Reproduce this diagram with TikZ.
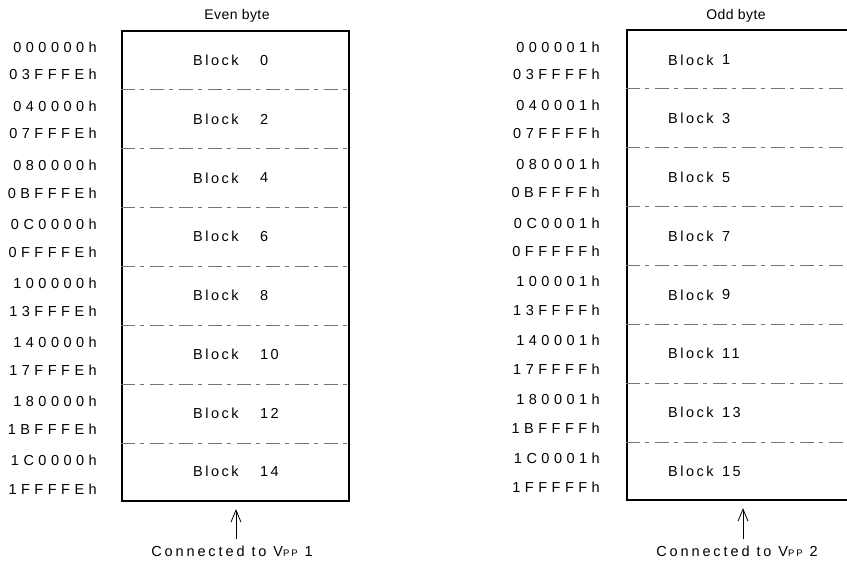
\documentclass[tikz,border=0pt]{standalone}
\usepackage{fontspec}
\setmainfont{Liberation Sans}
\newfontfamily\addrfont[LetterSpace=31]{Liberation Sans}
\newfontfamily\blockfont[LetterSpace=17]{Liberation Sans}
\newfontfamily\titlefont[LetterSpace=3]{Liberation Sans}
\newfontfamily\capfont[LetterSpace=20]{Liberation Sans}
\usetikzlibrary{arrows.meta,calc}

\tikzset{
  membox/.style={draw, line width=2.2pt, inner sep=0pt,
    minimum width=227pt, minimum height=470pt},
  divider/.style={draw=black!55, line width=0.7pt,
    dash pattern=on 14pt off 5pt on 4pt off 6pt},
  addr/.style={inner sep=0pt, font=\addrfont\fontsize{14.5}{14.5}\selectfont},
  blocklbl/.style={inner sep=0pt, anchor=west, font=\blockfont\fontsize{14.5}{14.5}\selectfont},
  title/.style={inner sep=0pt, anchor=base, font=\titlefont\fontsize{14}{14}\selectfont},
  vpplbl/.style={inner sep=0pt, anchor=base, font=\capfont\fontsize{14.5}{14.5}\selectfont},
  vpparrow/.style={line width=0.7pt, -{Straight Barb[length=12pt,width=10pt,line width=0.8pt]}},
}
\newcommand{\vppname}{V{\fontsize{9.5}{9.5}\selectfont PP}}

\begin{document}
\begin{tikzpicture}[x=1pt,y=-1pt]
\useasboundingbox (0,0) rectangle (847,568);

% the two memory columns
\node[membox] (even) at (235.5,266) {};
\node[membox] (odd)  at (740.5,265) {};

\node[title] (eventitle) at (237,19) {Even byte};
\node[title] (oddtitle)  at (736,19) {Odd byte};

% block boundaries
\foreach \k in {1,...,7} {
  \draw[divider] ($(even.north west)!\k/8!(even.south west)$) -- ($(even.north east)!\k/8!(even.south east)$);
  \draw[divider] ($(odd.north west)!\k/8!(odd.south west)$) -- ($(odd.north east)!\k/8!(odd.south east)$);
}

% even-byte blocks and their address ranges
\foreach \a/\b [count=\i from 0] in {000000h/03FFFEh, 040000h/07FFFEh, 080000h/0BFFFEh, 0C0000h/0FFFFEh,
    100000h/13FFFEh, 140000h/17FFFEh, 180000h/1BFFFEh, 1C0000h/1FFFFEh} {
  \pgfmathsetmacro{\ya}{47+59.1*\i}
  \pgfmathsetmacro{\yb}{74.5+59.2*\i}
  \pgfmathsetmacro{\yc}{60.5+58.75*\i}
  \pgfmathtruncatemacro{\n}{2*\i}
  \node[addr, anchor=east] (ea\i) at (97,\ya) {\a};
  \node[addr, anchor=east] (eb\i) at (97,\yb) {\b};
  \node[blocklbl] (ew\i) at (193,\yc) {Block};
  \node[blocklbl] (en\i) at (260,\yc) {\n};
}

% odd-byte blocks and their address ranges
\foreach \a/\b [count=\i from 0] in {000001h/03FFFFh, 040001h/07FFFFh, 080001h/0BFFFFh, 0C0001h/0FFFFFh,
    100001h/13FFFFh, 140001h/17FFFFh, 180001h/1BFFFFh, 1C0001h/1FFFFFh} {
  \pgfmathsetmacro{\ya}{47+58.7*\i}
  \pgfmathsetmacro{\yb}{74.5+58.9*\i}
  \pgfmathsetmacro{\yc}{60+58.75*\i}
  \pgfmathtruncatemacro{\n}{2*\i+1}
  \node[addr, anchor=east] (oa\i) at (600,\ya) {\a};
  \node[addr, anchor=east] (ob\i) at (600,\yb) {\b};
  \node[blocklbl] (ow\i) at (668,\yc) {Block};
  \node[blocklbl] (on\i) at (722,\yc) {\n};
}

% programming supply connections
\node[vpplbl] (vpp1) at (232,556) {Connected to \vppname\ 1};
\node[vpplbl] (vpp2) at (737,556) {Connected to \vppname\ 2};
\coordinate (t1) at ($(vpp1.north)+(4,0)$);
\coordinate (t2) at ($(vpp2.north)+(6,0)$);
\draw[vpparrow, shorten <=6pt, shorten >=7pt] (t1) -- (t1 |- even.south);
\draw[vpparrow, shorten <=6pt, shorten >=7pt] (t2) -- (t2 |- odd.south);
\end{tikzpicture}
\end{document}
